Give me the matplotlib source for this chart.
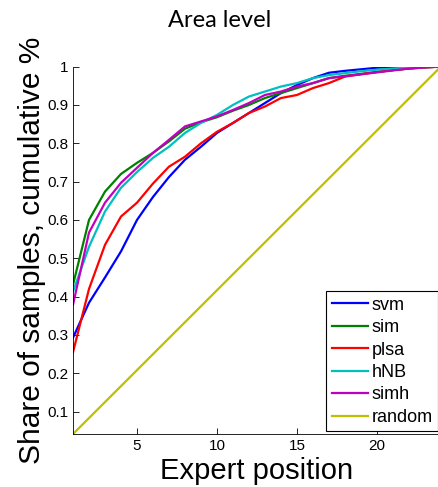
"""Cumulative share of samples by expert position (Area level)."""
import numpy as np
import matplotlib
matplotlib.use("Agg")
import matplotlib.pyplot as plt

plt.rcParams["font.family"] = ["Liberation Sans", "DejaVu Sans"]

positions = np.arange(1, 25)
svm = [0.293, 0.384, 0.450, 0.518, 0.600, 0.660, 0.712, 0.757, 0.791, 0.827,
       0.853, 0.879, 0.905, 0.931, 0.952, 0.970, 0.984, 0.989, 0.993, 0.997,
       0.999, 1.0, 1.0, 1.0]
sim = [0.431, 0.600, 0.674, 0.720, 0.749, 0.775, 0.805, 0.838, 0.855, 0.868,
       0.885, 0.900, 0.918, 0.931, 0.944, 0.957, 0.970, 0.976, 0.981, 0.986,
       0.991, 0.995, 0.998, 1.0]
plsa = [0.255, 0.420, 0.535, 0.609, 0.645, 0.695, 0.739, 0.765, 0.800, 0.830,
        0.853, 0.879, 0.896, 0.918, 0.926, 0.944, 0.957, 0.974, 0.980, 0.986,
        0.991, 0.995, 0.998, 1.0]
hnb = [0.413, 0.530, 0.622, 0.684, 0.725, 0.762, 0.791, 0.827, 0.853, 0.874,
       0.900, 0.922, 0.935, 0.948, 0.957, 0.970, 0.978, 0.983, 0.988, 0.992,
       0.995, 0.998, 0.999, 1.0]
simh = [0.379, 0.567, 0.645, 0.697, 0.736, 0.775, 0.809, 0.844, 0.857, 0.870,
        0.887, 0.905, 0.926, 0.935, 0.948, 0.957, 0.970, 0.975, 0.980, 0.985,
        0.990, 0.995, 0.998, 1.0]
random_ = positions / 24.0

series = [("svm", svm, (0, 0, 1)),
          ("sim", sim, (0, 0.5, 0)),
          ("plsa", plsa, (1, 0, 0)),
          ("hNB", hnb, (0, 0.75, 0.75)),
          ("simh", simh, (0.75, 0, 0.75)),
          ("random", random_, (0.75, 0.75, 0))]

fig = plt.figure(figsize=(4.39, 4.87), dpi=100)
ax = fig.add_axes([0.1663, 0.1088, 0.838, 0.7544])
for name, vals, col in series:
    ax.plot(positions, vals, color=col, lw=1.6, label=name)

ax.set_xlim(1, 24)
ax.set_ylim(1 / 24, 1)
ax.set_xticks([5, 10, 15, 20])
ax.set_yticks([0.1, 0.2, 0.3, 0.4, 0.5, 0.6, 0.7, 0.8, 0.9, 1.0])
ax.set_yticklabels(["0.1", "0.2", "0.3", "0.4", "0.5", "0.6", "0.7", "0.8", "0.9", "1"])
ax.tick_params(direction="in", labelsize=11, length=4, width=0.6)
for s in ("top", "right"):
    ax.spines[s].set_visible(False)
for s in ("left", "bottom"):
    ax.spines[s].set_linewidth(0.6)

ax.set_xlabel("Expert position", fontsize=21, labelpad=3)
ax.set_ylabel("Share of samples, cumulative %", fontsize=21.5, labelpad=1)
fig.text(0.5, 0.958, "Area level", fontsize=17, family="Lato",
         ha="center", va="center")

leg = ax.legend(loc="lower right", fontsize=13, fancybox=False, framealpha=1,
                edgecolor="black", handlelength=2.0, handletextpad=0.2,
                labelspacing=0.3, borderpad=0.3, borderaxespad=0.15)
leg.get_frame().set_linewidth(0.8)

fig.savefig("out.png", dpi=100)
